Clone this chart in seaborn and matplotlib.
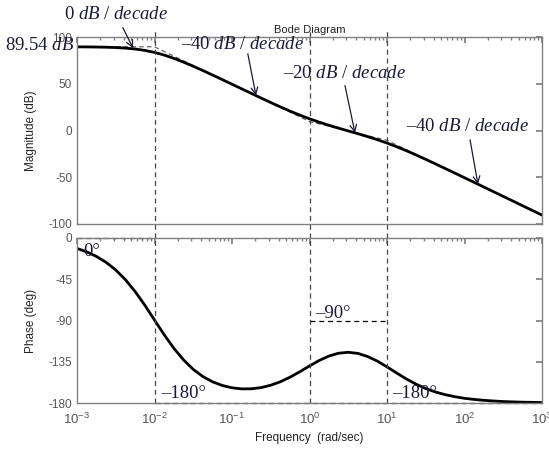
import numpy as np
import pandas as pd
import matplotlib
matplotlib.use("Agg")
import matplotlib.pyplot as plt
import matplotlib.transforms as mtransforms
import seaborn as sns

# Values (eighth-decade points)
freq = [1e-3, 1.334e-3, 1.78e-3, 2.371e-3, 3.16e-3, 4.217e-3, 5.62e-3, 7.499e-3,
        1e-2, 1.334e-2, 1.78e-2, 2.371e-2, 3.16e-2, 4.217e-2, 5.62e-2, 7.499e-2,
        0.1, 0.1334, 0.178, 0.2371, 0.316, 0.4217, 0.562, 0.7499,
        1.0, 1.334, 1.78, 2.371, 3.16, 4.217, 5.62, 7.499,
        10.0, 13.34, 17.8, 23.71, 31.6, 42.17, 56.2, 74.99,
        100.0, 133.4, 178.0, 237.1, 316.0, 421.7, 562.0, 749.9, 1000.0]
magnitude_db = [89.45, 89.39, 89.27, 89.07, 88.71, 88.12, 87.15, 85.66,
                83.52, 80.67, 77.16, 73.12, 68.72, 64.08, 59.29, 54.41,
                49.49, 44.57, 39.65, 34.76, 29.94, 25.23, 20.72, 16.45,
                12.51, 8.90, 5.59, 2.51, -0.46, -3.43, -6.52, -9.82,
                -13.43, -17.38, -21.64, -26.16, -30.87, -35.70, -40.59, -45.54,
                -50.5, -55.48, -60.47, -65.47, -70.46, -75.46, -80.46, -85.46, -90.46]
phase_deg = [-11.4, -15.1, -20.1, -26.5, -34.9, -45.5, -58.4, -73.3,
             -89.5, -105.6, -120.4, -133.0, -143.3, -151.2, -156.9, -160.9,
             -163.4, -164.6, -164.5, -163.2, -160.6, -156.8, -151.8, -145.9,
             -139.6, -133.6, -128.8, -125.7, -124.7, -125.9, -129.3, -134.3,
             -140.6, -147.3, -153.8, -159.5, -164.2, -168.0, -170.9, -173.1,
             -174.9, -176.1, -177.1, -177.8, -178.4, -178.8, -179.1, -179.3, -179.5]

# Asymptotes (break frequencies and levels)
asym_freq = [1e-3, 1e-2, 1.0, 10.0, 1000.0]
asym_mag = [89.54, 89.54, 9.54, -10.46, -90.46]
break_freq = [1e-2, 1.0, 10.0]

mag_ticks = [-100, -50, 0, 50, 100]
phase_ticks = [-180, -135, -90, -45, 0]
freq_ticks = [1e-3, 1e-2, 1e-1, 1e0, 1e1, 1e2, 1e3]

df = pd.DataFrame({"freq": freq, "mag": magnitude_db, "phase": phase_deg})
df_asym = pd.DataFrame({"freq": asym_freq, "mag": asym_mag})

sns.set_theme(style="white")
plt.rcParams["font.family"] = ["Liberation Sans", "DejaVu Sans"]
plt.rcParams["axes.unicode_minus"] = False
plt.rcParams["mathtext.fontset"] = "custom"
plt.rcParams["mathtext.rm"] = "Liberation Serif"
plt.rcParams["mathtext.it"] = "Liberation Serif:italic"

ink = "#1a1a36"
grey = "#808080"
ann_font = {"family": "Liberation Serif", "size": 13.5, "color": ink}

fig = plt.figure(figsize=(5.49, 4.5), dpi=100)
ax1 = fig.add_axes([77 / 549, 1 - 224 / 450, 465 / 549, 187 / 450])
ax2 = fig.add_axes([77 / 549, 1 - 403 / 450, 465 / 549, 165 / 450])

# magnitude
sns.lineplot(data=df_asym, x="freq", y="mag", ax=ax1, color="#555555",
             lw=0.8, linestyle=(0, (4, 3)), estimator=None, sort=False)
sns.lineplot(data=df, x="freq", y="mag", ax=ax1, color="black", lw=2,
             estimator=None, sort=False)

# phase
sns.lineplot(data=df, x="freq", y="phase", ax=ax2, color="black", lw=2,
             estimator=None, sort=False)
ax2.plot([asym_freq[0], break_freq[0]], [0, 0], color="black", lw=0.9,
         linestyle=(0, (4, 3)), clip_on=False)
ax2.plot([break_freq[0], asym_freq[-1]], [-180, -180], color="black", lw=0.9,
         linestyle=(0, (4, 3)), clip_on=False)
ax2.plot([break_freq[1], break_freq[2]], [-90, -90], color="black", lw=0.9,
         linestyle=(0, (4, 3)))

# vertical break-frequency lines through both panels
for f in break_freq:
    ax1.axvline(f, ymin=-14 / 187, ymax=1.045, color="#444444", lw=0.9,
                linestyle=(0, (4, 3)), clip_on=False)
    ax2.axvline(f, ymin=0, ymax=1, color="#444444", lw=0.9,
                linestyle=(0, (4, 3)))

for ax in (ax1, ax2):
    ax.set_xscale("log")
    ax.set_xlim(1e-3, 1e3)
    for s in ax.spines.values():
        s.set_color(grey)
        s.set_linewidth(1.0)
    ax.tick_params(which="both", direction="in", top=True, right=True,
                   color=grey, labelcolor="#555555", labelsize=8.5)
    ax.tick_params(which="major", length=4)
    ax.tick_params(which="minor", length=2.5)

ax1.set_ylim(-100, 100)
ax1.set_yticks(mag_ticks)
ax1.set_xticklabels([])
ax1.set_xlabel("")
ax1.set_ylabel("Magnitude (dB)", fontsize=8.5, color="#222222")
ax1.set_title("Bode Diagram", fontsize=8, color="#222222", pad=3)

ax2.set_ylim(-180, 0)
ax2.set_yticks(phase_ticks)
ax2.set_xticks(freq_ticks)
ax2.set_ylabel("Phase (deg)", fontsize=8.5, color="#222222")
ax2.set_xlabel("Frequency  (rad/sec)", fontsize=8.5, color="#222222")
ax2.tick_params(axis="x", pad=6, labelsize=9.5)
ax1.yaxis.set_label_coords(-0.085, 0.5)
ax2.yaxis.set_label_coords(-0.085, 0.5)

# slope annotations
arrow = dict(arrowstyle="->", color=ink, lw=0.9, shrinkA=0, shrinkB=0)
ax1.text(3.2e-3, 124, "0 $dB$ / $decade$", ha="center", va="center",
         fontdict=ann_font, clip_on=False)
ax1.annotate("", xy=(5.3e-3, 88), xytext=(3.9e-3, 110), arrowprops=arrow,
             annotation_clip=False)
ax1.text(0.135, 92, "–40 $dB$ / $decade$", ha="center", va="center",
         fontdict=ann_font)
ax1.annotate("", xy=(0.204, 37.5), xytext=(0.16, 82), arrowprops=arrow)
ax1.text(2.87, 61, "–20 $dB$ / $decade$", ha="center", va="center",
         fontdict=ann_font)
ax1.annotate("", xy=(3.86, -2.5), xytext=(2.87, 48), arrowprops=arrow)
ax1.text(111, 4, "–40 $dB$ / $decade$", ha="center", va="center",
         fontdict=ann_font)
ax1.annotate("", xy=(149, -57.5), xytext=(118, -10), arrowprops=arrow)

trans = mtransforms.blended_transform_factory(ax1.transAxes, ax1.transData)
ax1.text(-0.005, 91, "89.54 $dB$", transform=trans, ha="right", va="center",
         fontdict=ann_font, clip_on=False)

# phase labels
ax2.text(1.19e-3, -15, "0°", ha="left", va="center", fontdict=ann_font)
ax2.text(0.0121, -170, "–180°", ha="left", va="center", fontdict=ann_font)
ax2.text(1.18, -82, "–90°", ha="left", va="center", fontdict=ann_font)
ax2.text(11.6, -170, "–180°", ha="left", va="center", fontdict=ann_font)

fig.savefig("out.png", dpi=100)
